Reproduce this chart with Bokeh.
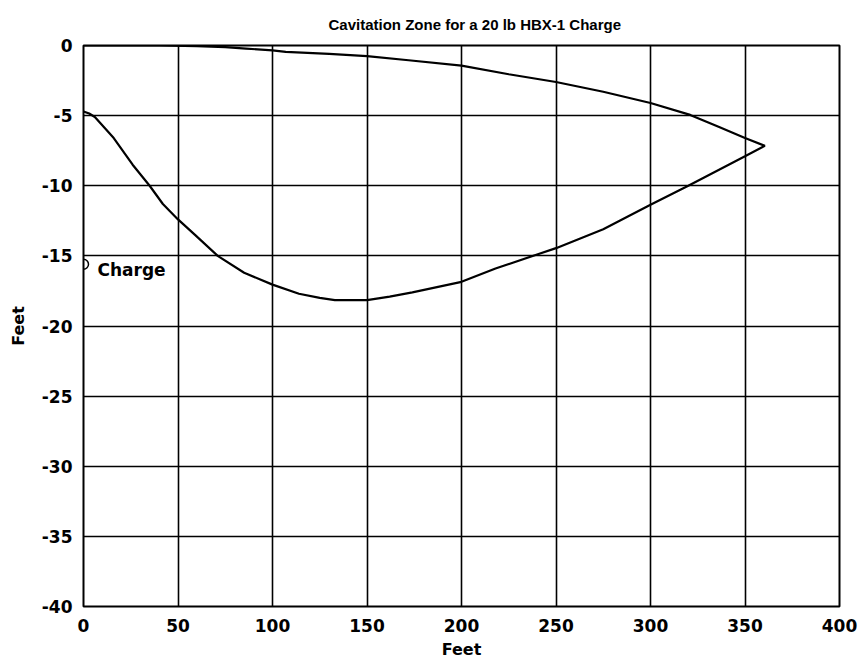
from bokeh.plotting import figure
from bokeh.models import Range1d, FixedTicker, ColumnDataSource
from bokeh.core.properties import value
from bokeh.embed import file_html
from bokeh.resources import INLINE

title_text = "Cavitation Zone for a 20 lb HBX-1 Charge"
x_label = "Feet"
y_label = "Feet"

x_ticks = [0, 50, 100, 150, 200, 250, 300, 350, 400]
y_ticks = [0, -5, -10, -15, -20, -25, -30, -35, -40]

# lower boundary of the cavitation zone (from x=0 out to the tip)
lower_x = [0, 3, 6, 16, 26, 35, 42, 50, 59, 71, 85, 100, 114, 125, 133, 150,
           162, 174, 200, 218, 240, 250, 275, 300, 320, 350, 360.5]
lower_y = [-4.7, -4.85, -5.1, -6.6, -8.5, -10.0, -11.3, -12.4, -13.5, -15.0, -16.2,
           -17.05, -17.7, -18.0, -18.15, -18.15, -17.9, -17.6, -16.85, -15.9, -14.9,
           -14.45, -13.1, -11.35, -10.0, -7.9, -7.15]

# upper boundary (near the surface), from the tip back to x=0
upper_x = [360.5, 350, 336, 321, 300, 275, 250, 225, 200, 172, 150, 130, 107,
           100, 86, 75, 60, 40, 0]
upper_y = [-7.15, -6.6, -5.8, -4.95, -4.1, -3.3, -2.6, -2.05, -1.43, -1.05, -0.76,
           -0.6, -0.45, -0.35, -0.22, -0.12, -0.05, 0.0, 0.0]

charge_x = [0]
charge_y = [-15.6]
charge_label = ["Charge"]
label_x = [7.4]
label_y = [-16.0]

p = figure(frame_width=756, frame_height=561, output_backend="svg", toolbar_location=None,
           x_range=Range1d(0, 400), y_range=Range1d(-40, 0),
           min_border_left=83, min_border_right=20, min_border_top=45,
           min_border_bottom=52)

p.title.text = title_text
p.title.align = "left"
p.title.offset = 245
p.title.text_font = "Liberation Sans"
p.title.text_font_size = "15px"
p.title.text_font_style = "bold"
p.title.text_color = "black"
p.title.standoff = 25

p.background_fill_color = "white"
p.border_fill_color = "white"
p.outline_line_color = "black"
p.outline_line_width = 2

for ax in (p.xaxis[0], p.yaxis[0]):
    ax.major_label_text_font = "DejaVu Sans"
    ax.major_label_text_font_style = "bold"
    ax.major_label_text_font_size = "17px"
    ax.major_label_text_color = "black"
    ax.axis_label_text_font = "DejaVu Sans"
    ax.axis_label_text_font_style = "bold"
    ax.axis_label_text_font_size = "16px"
    ax.axis_label_text_color = "black"
    ax.major_tick_line_color = None
    ax.minor_tick_line_color = None
    ax.axis_line_color = None

p.xaxis.ticker = FixedTicker(ticks=x_ticks)
p.yaxis.ticker = FixedTicker(ticks=y_ticks)
p.xaxis.major_label_overrides = {t: str(t) for t in x_ticks}
p.yaxis.major_label_overrides = {t: str(t) for t in y_ticks}
p.xaxis.axis_label = x_label
p.yaxis.axis_label = y_label
p.xaxis.major_label_standoff = 6
p.yaxis.major_label_standoff = 5
p.xaxis.axis_label_standoff = 5
p.yaxis.axis_label_standoff = 11

p.xgrid.ticker = FixedTicker(ticks=x_ticks)
p.ygrid.ticker = FixedTicker(ticks=y_ticks)
for g in (p.xgrid[0], p.ygrid[0]):
    g.grid_line_color = "black"
    g.grid_line_width = 1.6
    g.grid_line_alpha = 1.0

curve_x = lower_x + upper_x
curve_y = lower_y + upper_y
p.line(curve_x, curve_y, line_color="black", line_width=2.2)

p.scatter(charge_x, charge_y, marker="circle", size=10, fill_color=None,
          line_color="black", line_width=1.5)

src = ColumnDataSource(dict(x=label_x, y=label_y, t=charge_label))
p.text(x="x", y="y", text="t", source=src, text_font=value("DejaVu Sans"),
       text_font_style="bold", text_font_size="17px", text_baseline="middle",
       text_align="left", text_color="black")

open("out.html", "w").write(file_html(p, INLINE))
